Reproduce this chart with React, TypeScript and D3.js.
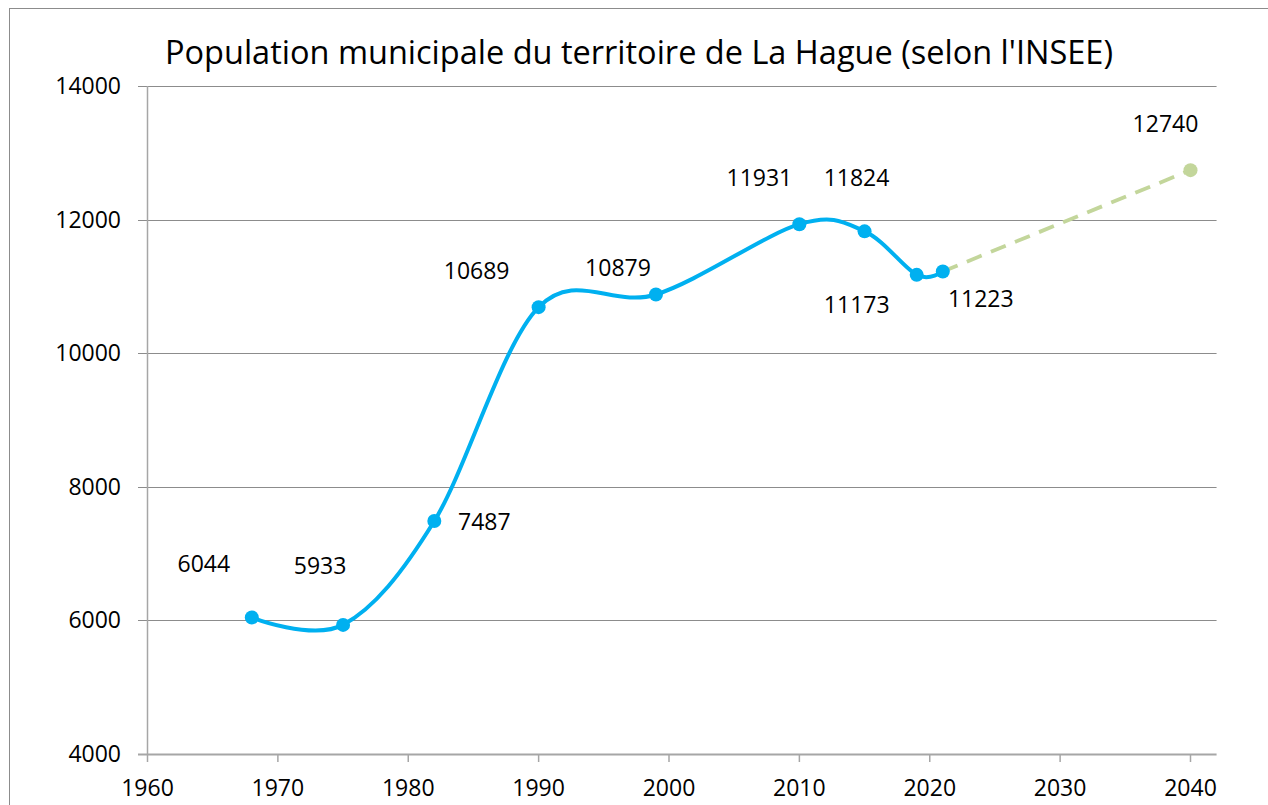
import React, { useEffect, useRef } from 'react';
import * as d3 from 'd3';

// population (INSEE) for La Hague
const years = [1968, 1975, 1982, 1990, 1999, 2010, 2015, 2019, 2021];
const population = [6044, 5933, 7487, 10689, 10879, 11931, 11824, 11173, 11223];
const forecastYears = [2021, 2040];
const forecastPop = [11223, 12740];

const xTicks = [1960, 1970, 1980, 1990, 2000, 2010, 2020, 2030, 2040];
const yTicks = [4000, 6000, 8000, 10000, 12000, 14000];

// where each data label sits relative to its point (as placed by hand in the original)
const labelOffsets = [
  [-48, -54], [-23, -59], [50, 1], [-62, -36], [-38, -27],
  [-40, -46], [-8, -53], [-60, 30], [38, 27],
];
const forecastLabelOffset = [-25, -46];

const FONT = "'Open Sans', 'Noto Sans', sans-serif";

export default function App() {
  const ref = useRef<SVGSVGElement>(null);

  useEffect(() => {
    const svg = d3.select(ref.current);
    svg.selectAll('*').remove();

    const x = d3.scaleLinear().domain([1960, 2040]).range([147.5, 1190.5]);
    const y = d3.scaleLinear().domain([4000, 14000]).range([754, 86]);
    const xEnd = x(2042);

    // chart border
    svg.append('rect')
      .attr('x', 9.5).attr('y', 8.5)
      .attr('width', 1300).attr('height', 900)
      .attr('fill', 'white')
      .attr('stroke', '#8c8c8c')
      .attr('stroke-width', 1);

    // title
    svg.append('text')
      .attr('x', 639).attr('y', 64)
      .attr('text-anchor', 'middle')
      .style('font-family', FONT)
      .style('font-size', '32.5px')
      .attr('fill', '#000')
      .text("Population municipale du territoire de La Hague (selon l'INSEE)");

    // horizontal gridlines (with the small tick stub on the left)
    svg.append('g')
      .selectAll('line')
      .data(yTicks)
      .enter().append('line')
      .attr('x1', 138).attr('x2', xEnd)
      .attr('y1', d => Math.round(y(d)) + 0.5)
      .attr('y2', d => Math.round(y(d)) + 0.5)
      .attr('stroke', d => (d === 4000 ? '#a6a6a6' : '#8c8c8c'))
      .attr('stroke-width', d => (d === 4000 ? 2 : 1));

    // y axis line
    svg.append('line')
      .attr('x1', 147.5).attr('x2', 147.5)
      .attr('y1', y(14000)).attr('y2', y(4000))
      .attr('stroke', '#a6a6a6')
      .attr('stroke-width', 1.5);

    // x ticks
    svg.append('g')
      .selectAll('line')
      .data(xTicks)
      .enter().append('line')
      .attr('x1', d => x(d)).attr('x2', d => x(d))
      .attr('y1', y(4000)).attr('y2', y(4000) + 8)
      .attr('stroke', '#a6a6a6')
      .attr('stroke-width', 1.5);

    // y tick labels
    svg.append('g')
      .selectAll('text')
      .data(yTicks)
      .enter().append('text')
      .attr('x', 121)
      .attr('y', d => y(d))
      .attr('dy', '0.35em')
      .attr('text-anchor', 'end')
      .style('font-family', FONT)
      .style('font-size', '23px')
      .text(d => String(d));

    // x tick labels
    svg.append('g')
      .selectAll('text')
      .data(xTicks)
      .enter().append('text')
      .attr('x', d => x(d))
      .attr('y', 788)
      .attr('dy', '0.35em')
      .attr('text-anchor', 'middle')
      .style('font-family', FONT)
      .style('font-size', '23px')
      .text(d => String(d));

    // forecast, dashed green
    const fc = forecastYears.map((yr, i) => [x(yr), y(forecastPop[i])] as [number, number]);
    svg.append('path')
      .attr('d', d3.line()(fc))
      .attr('fill', 'none')
      .attr('stroke', '#c3d69b')
      .attr('stroke-width', 3.8)
      .attr('stroke-dasharray', '16,10');

    svg.append('circle')
      .attr('cx', fc[1][0]).attr('cy', fc[1][1])
      .attr('r', 7)
      .attr('fill', '#c3d69b');

    // observed population, smoothed blue line (Excel-like smoothing)
    const pts = years.map((yr, i) => [x(yr), y(population[i])] as [number, number]);
    const line = d3.line().curve(d3.curveCardinal.tension(0));
    svg.append('path')
      .attr('d', line(pts))
      .attr('fill', 'none')
      .attr('stroke', '#00b0f0')
      .attr('stroke-width', 4);

    svg.append('g')
      .selectAll('circle')
      .data(pts)
      .enter().append('circle')
      .attr('cx', d => d[0]).attr('cy', d => d[1])
      .attr('r', 7)
      .attr('fill', '#00b0f0');

    // data labels
    svg.append('g')
      .selectAll('text')
      .data(pts)
      .enter().append('text')
      .attr('x', (d, i) => d[0] + labelOffsets[i][0])
      .attr('y', (d, i) => d[1] + labelOffsets[i][1])
      .attr('dy', '0.35em')
      .attr('text-anchor', 'middle')
      .style('font-family', FONT)
      .style('font-size', '23px')
      .text((d, i) => String(population[i]));

    svg.append('text')
      .attr('x', fc[1][0] + forecastLabelOffset[0])
      .attr('y', fc[1][1] + forecastLabelOffset[1])
      .attr('dy', '0.35em')
      .attr('text-anchor', 'middle')
      .style('font-family', FONT)
      .style('font-size', '23px')
      .text(String(forecastPop[1]));
  }, []);

  return (
    <div style={{ position: 'absolute', left: 0, top: 0, width: 1268, height: 805, overflow: 'hidden' }}>
      <svg ref={ref} width={1268} height={805} style={{ display: 'block' }}></svg>
    </div>
  );
}
